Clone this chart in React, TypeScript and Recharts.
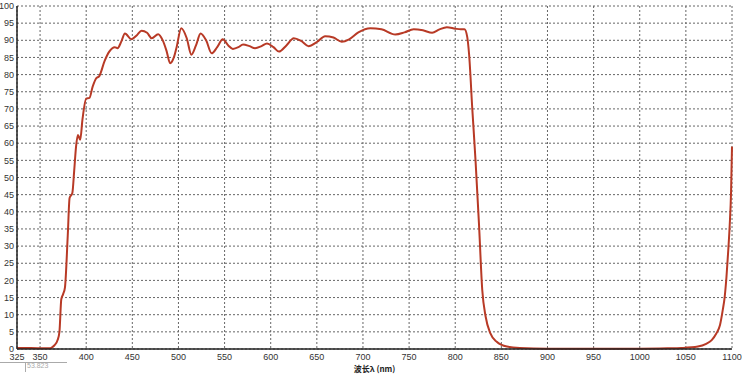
import { LineChart, Line, XAxis, YAxis, CartesianGrid, Label } from 'recharts';

// wavelength (nm) and transmittance (%)
const wavelengths = [
  325, 340, 355, 360, 363, 366, 369, 371, 373, 375, 377, 380, 382, 385, 387, 389, 391, 393.5, 396, 400,
  403.5, 407, 411, 414, 420, 425, 431, 434, 438, 442, 449, 455, 460, 466, 471, 478, 483, 487, 491, 495,
  498, 503, 509, 514, 519, 524, 530, 536, 542, 548, 554, 559, 565, 570, 577, 583, 590, 596, 603, 609,
  617, 625, 633, 641, 650, 659, 668, 677, 685, 695, 708, 720, 735, 745, 755, 765, 775, 783, 791, 800,
  806, 810, 813, 815, 818.5, 822, 825.7, 829.3, 833, 838, 845, 856, 870, 900, 950, 1000, 1030, 1045, 1063, 1072,
  1078, 1083, 1087, 1090, 1092, 1094, 1096, 1097.5, 1099, 1100,
];
const transmittance = [
  0.3, 0.3, 0.2, 0.2, 0.5, 1.2, 2.6, 5, 14.5, 16, 18, 33, 44, 45.5, 52, 59, 62.4, 61, 67, 73,
  73.2, 76.5, 79, 79.5, 84, 86.7, 88, 87.7, 89.6, 92, 90.3, 91.5, 92.8, 92.2, 90.6, 91.8, 90, 87, 83.3, 85,
  88, 93.5, 90.6, 85.8, 88.5, 92, 90, 86.2, 88, 90.3, 88.5, 87.5, 88, 88.8, 88.3, 87.7, 88.3, 89.1, 88, 86.7,
  88.5, 90.6, 89.8, 88.3, 89.5, 91.2, 90.8, 89.6, 90.3, 92.3, 93.5, 93.2, 91.7, 92.3, 93.2, 92.9, 92.2, 93.2, 93.8, 93.4,
  93.2, 93.2, 91, 86, 70, 55, 36.7, 17.2, 9.4, 4.6, 2.1, 0.7, 0.3, 0.1, 0.1, 0.1, 0.2, 0.3, 0.7, 1.5,
  2.6, 4.5, 7, 11.4, 15, 21, 29, 36, 46, 59,
];

const xTicks = [325, 350, 400, 450, 500, 550, 600, 650, 700, 750, 800, 850, 900, 950, 1000, 1050, 1100];
const yTicks = [0, 5, 10, 15, 20, 25, 30, 35, 40, 45, 50, 55, 60, 65, 70, 75, 80, 85, 90, 95, 100];

const data = wavelengths.map((wl, i) => ({ wl, t: transmittance[i] }));

const tickStyle = { fontSize: 9, fill: '#333', fontFamily: 'Liberation Sans, Arial, sans-serif' };

export default function App() {
  return (
    <div style={{ position: 'absolute', left: 0, top: 0, width: 750, height: 375, background: '#fff' }}>
      <LineChart width={750} height={375} data={data} margin={{ top: 6, right: 18, left: 0, bottom: 0 }}>
        <CartesianGrid stroke="#666" strokeDasharray="2 2" />
        <XAxis
          dataKey="wl"
          type="number"
          domain={[325, 1100]}
          ticks={xTicks}
          interval={0}
          height={26}
          tickSize={0}
          tickMargin={5}
          axisLine={{ stroke: '#222', strokeWidth: 1.5 }}
          tick={tickStyle}
        >
          <Label
            value="波长λ (nm)"
            position="insideBottom"
            offset={3}
            style={{ fontSize: 8, fontWeight: 'bold', fill: '#222', fontFamily: 'Noto Sans CJK SC, sans-serif' }}
          />
        </XAxis>
        <XAxis xAxisId="top" orientation="top" type="number" domain={[325, 1100]} height={0} tick={false} tickLine={false} axisLine={{ stroke: '#444' }} />
        <YAxis
          type="number"
          domain={[0, 100]}
          ticks={yTicks}
          interval={0}
          width={17}
          tickSize={0}
          tickMargin={3}
          axisLine={{ stroke: '#222', strokeWidth: 1.5 }}
          tick={tickStyle}
        />
        <YAxis yAxisId="right" orientation="right" type="number" domain={[0, 100]} width={0} tick={false} tickLine={false} axisLine={{ stroke: '#999' }} />
        <Line
          type="monotone"
          dataKey="t"
          stroke="#b83a26"
          strokeWidth={2}
          dot={false}
          isAnimationActive={false}
        />
      </LineChart>
      <div style={{ position: 'absolute', left: 0, top: 362, width: 67, borderTop: '1px solid #aaa' }} />
      <div style={{ position: 'absolute', left: 25, top: 362, height: 10, borderLeft: '1px solid #aaa' }} />
      <div style={{ position: 'absolute', left: 27, top: 362, fontSize: 7, color: '#aaa', fontFamily: 'Liberation Sans, Arial, sans-serif' }}>
        53.823
      </div>
    </div>
  );
}
